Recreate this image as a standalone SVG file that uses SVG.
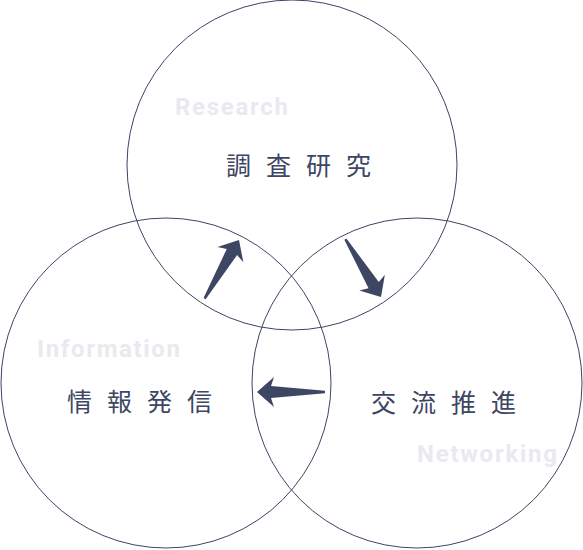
<svg xmlns="http://www.w3.org/2000/svg" width="583" height="550" viewBox="0 0 583 550">
<style>
.c{fill:none;stroke:#3d4563;stroke-width:1}
.jp{font-family:"Noto Sans CJK JP","Noto Sans",sans-serif;font-size:25px;fill:#3d4663;letter-spacing:15px}
.en{font-family:Roboto,"Noto Sans",sans-serif;font-weight:700;font-size:24px;fill:#e9eaef}
.ar{fill:#3d4663}
</style>
<defs>
<path id="arrow" d="M0,0 L-17,-15 L-14,-6 L-68,-1.2 L-68,1.2 L-14,6 L-17,15 Z"/>
</defs>
<rect width="583" height="550" fill="#ffffff"/>
<g id="research">
<circle class="c" cx="292" cy="165" r="165"/>
<text class="en" x="175" y="115" textLength="113" lengthAdjust="spacing">Research</text>
<text class="jp" x="226" y="175">調査研究</text>
</g>
<g id="information">
<circle class="c" cx="166" cy="383" r="165"/>
<text class="en" x="37" y="357" textLength="143" lengthAdjust="spacing">Information</text>
<text class="jp" x="67" y="411">情報発信</text>
</g>
<g id="networking">
<circle class="c" cx="417" cy="383" r="165"/>
<text class="en" x="417" y="462" textLength="140" lengthAdjust="spacing">Networking</text>
<text class="jp" x="371" y="412">交流推進</text>
</g>
<g id="connectors">
<use href="#arrow" class="ar" transform="translate(239,240) rotate(-59.6)"/>
<use href="#arrow" class="ar" transform="translate(381,297) rotate(58.4)"/>
<use href="#arrow" class="ar" transform="translate(257,392) rotate(180)"/>
</g>
</svg>
